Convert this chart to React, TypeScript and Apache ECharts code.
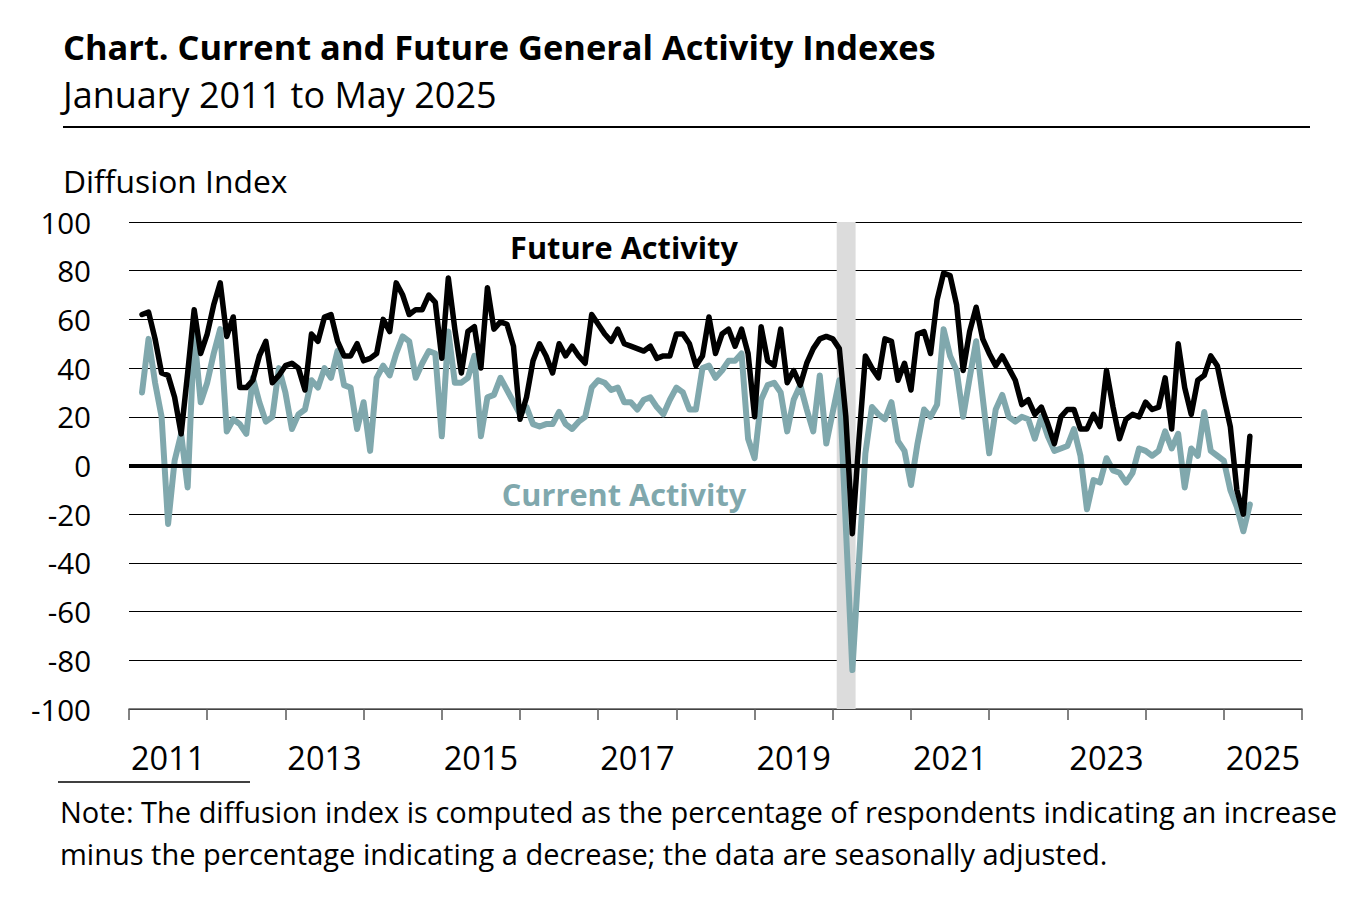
// Indices de atividade geral atual e futura (jan/2011 a mai/2025), linhas mensais
// sobre eixo de meses, com faixa cinza na recessao de 2020.
import { useEffect, useRef } from 'react'
import * as echarts from 'echarts'

const FONT = '"Open Sans", Lato, sans-serif'
const TEAL = '#80a8ad'

// Meses contados a partir de jan/2011 (0). A serie comeca em mar/2011.
const START_MONTH = 2
const AXIS_MONTHS = 180

// Rotulos do eixo X: um por ano, so os anos impares aparecem.
const YEAR_LABELS = [
  '2011', '', '2013', '', '2015', '', '2017', '', '2019', '', '2021', '', '2023', '', '2025',
]

// Future Activity (preta), um ano por linha
const FUTURE_ACTIVITY = [
  62, 63, 52, 38, 37, 28, 13, 38, 64, 46,
  54, 66, 75, 53, 61, 32, 32, 35, 45, 51, 34, 37,
  41, 42, 40, 31, 54, 51, 61, 62, 51, 45, 45, 50,
  43, 44, 46, 60, 55, 75, 70, 62, 64, 64, 70, 67,
  44, 77, 56, 38, 55, 57, 40, 73, 56, 59, 58, 49,
  19, 28, 43, 50, 45, 38, 50, 45, 49, 45, 42, 62,
  58, 54, 51, 56, 50, 49, 48, 47, 49, 44, 45, 45,
  54, 54, 50, 41, 45, 61, 46, 54, 56, 49, 56, 46,
  20, 57, 43, 41, 56, 34, 39, 33, 42, 48, 52, 53,
  52, 48, 20, -28, 10, 45, 40, 36, 52, 51, 35, 42,
  31, 54, 55, 46, 68, 79, 78, 66, 39, 55, 65, 52,
  46, 41, 45, 40, 35, 25, 27, 21, 24, 17, 9, 20,
  23, 23, 15, 15, 21, 16, 39, 24, 11, 19, 21, 20,
  26, 23, 24, 36, 15, 50, 32, 21, 35, 37, 45, 41,
  28, 16, -10, -20, 12,
]

// Current Activity (verde-azulada)
const CURRENT_ACTIVITY = [
  30, 52, 34, 20, -24, 2, 13, -9, 54, 26,
  34, 46, 56, 14, 19, 17, 13, 36, 26, 18, 20, 40,
  30, 15, 21, 23, 35, 32, 40, 36, 47, 33, 32, 15,
  26, 6, 36, 41, 37, 46, 53, 51, 36, 42, 47, 46,
  12, 55, 34, 34, 36, 45, 12, 28, 29, 36, 31, 26,
  21, 24, 17, 16, 17, 17, 22, 17, 15, 18, 20, 32,
  35, 34, 31, 32, 26, 26, 23, 27, 28, 24, 21, 27,
  32, 30, 23, 23, 40, 41, 36, 39, 43, 43, 46, 11,
  3, 27, 33, 34, 30, 14, 27, 33, 23, 14, 37, 9,
  22, 35, -25, -84, -40, 5, 24, 21, 19, 26, 10, 6,
  -8, 9, 23, 20, 25, 56, 45, 39, 20, 36, 51, 28,
  5, 23, 29, 20, 18, 20, 19, 11, 20, 12, 6, 7,
  8, 15, 4, -18, -6, -7, 3, -2, -3, -7, -3, 7,
  6, 4, 6, 14, 7, 13, -9, 7, 4, 22, 6, 4,
  2, -10, -17, -27, -16,
]

// Faixa de recessao (fev-abr/2020), em meses desde jan/2011
const RECESSION_FROM = 108.6
const RECESSION_TO = 111.5

const TITLE = 'Chart. Current and Future General Activity Indexes'
const SUBTITLE = 'January 2011 to May 2025'
const Y_NAME = 'Diffusion Index'
const NOTE_1 = 'Note: The diffusion index is computed as the percentage of respondents indicating an increase'
const NOTE_2 = 'minus the percentage indicating a decrease; the data are seasonally adjusted.'

const toPoints = (valores: number[]) => valores.map((v, i) => [START_MONTH + i, v])

function texto(text: string, x: number, y: number, size: number, extra: Record<string, unknown> = {}) {
  return {
    type: 'text',
    x,
    y,
    silent: true,
    style: {
      text,
      fontFamily: FONT,
      fontSize: size,
      fill: '#000',
      verticalAlign: 'middle',
      ...extra,
    },
  }
}

export default function App() {
  const containerRef = useRef<HTMLDivElement>(null)

  useEffect(() => {
    if (!containerRef.current) return
    const chart = echarts.init(containerRef.current, undefined, { renderer: 'svg' })

    chart.setOption({
      animation: false,
      backgroundColor: '#fff',
      textStyle: { fontFamily: FONT },
      grid: { left: 129, right: 66, top: 222, bottom: 204 },
      xAxis: [
        { type: 'value', min: 0, max: AXIS_MONTHS, show: false },
        {
          type: 'category',
          data: YEAR_LABELS,
          position: 'bottom',
          boundaryGap: true,
          axisLine: { lineStyle: { color: '#595959', width: 1.5 } },
          axisTick: { show: true, interval: 0, length: 11, lineStyle: { color: '#595959', width: 1.5 } },
          axisLabel: { interval: 0, margin: 32, fontSize: 32.5, color: '#000', fontFamily: FONT },
          splitLine: { show: false },
        },
      ],
      yAxis: {
        type: 'value',
        min: -100,
        max: 100,
        interval: 20,
        axisLine: { show: false },
        axisTick: { show: false },
        axisLabel: { margin: 38, fontSize: 29.5, color: '#000', fontFamily: FONT },
        splitLine: { lineStyle: { color: '#000', width: 1 } },
      },
      series: [
        {
          type: 'line',
          name: 'Current Activity',
          xAxisIndex: 0,
          data: toPoints(CURRENT_ACTIVITY),
          symbol: 'none',
          lineStyle: { color: TEAL, width: 6, cap: 'round', join: 'round' },
          markArea: {
            silent: true,
            itemStyle: { color: '#dcdcdc' },
            data: [[{ xAxis: RECESSION_FROM }, { xAxis: RECESSION_TO }]],
          },
        },
        {
          type: 'line',
          name: 'Future Activity',
          xAxisIndex: 0,
          data: toPoints(FUTURE_ACTIVITY),
          symbol: 'none',
          lineStyle: { color: '#000', width: 5.5, cap: 'round', join: 'round' },
          markLine: {
            silent: true,
            symbol: 'none',
            label: { show: false },
            lineStyle: { color: '#000', width: 4, type: 'solid' },
            data: [{ yAxis: 0 }],
          },
        },
      ],
      graphic: [
        texto(TITLE, 63, 46, 34.4, { fontWeight: 'bold' }),
        texto(SUBTITLE, 63, 94, 36),
        { type: 'line', silent: true, shape: { x1: 63, y1: 127, x2: 1310, y2: 127 }, style: { stroke: '#000', lineWidth: 2 } },
        texto(Y_NAME, 63, 180, 31.8),
        texto('Future Activity', 624, 247, 30.7, { fontWeight: 'bold', align: 'center' }),
        texto('Current Activity', 624, 494, 30.7, { fontWeight: 'bold', align: 'center', fill: TEAL }),
        { type: 'line', silent: true, shape: { x1: 58, y1: 782, x2: 250, y2: 782 }, style: { stroke: '#000', lineWidth: 1.5 } },
        texto(NOTE_1, 60, 811, 29),
        texto(NOTE_2, 60, 853, 29),
      ],
    })

    return () => chart.dispose()
  }, [])

  return (
    <div
      ref={containerRef}
      style={{ position: 'fixed', left: 0, top: 0, width: 1368, height: 913, background: '#fff' }}
    />
  )
}
